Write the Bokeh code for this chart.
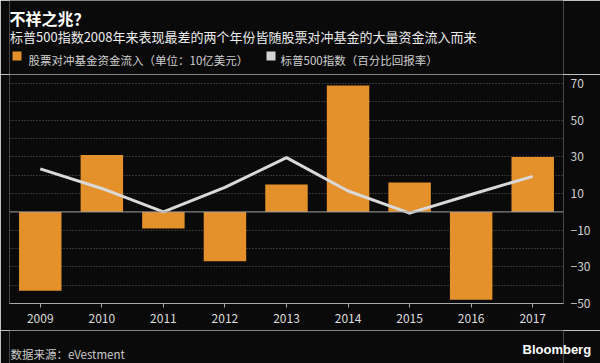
from bokeh.plotting import figure
from bokeh.layouts import column
from bokeh.models import (ColumnDataSource, FactorRange, Range1d, FixedTicker,
                          Span, Label, BoxAnnotation, LinearAxis)
from bokeh.embed import file_html
from bokeh.resources import INLINE

# ---- data ----
years = ["2009", "2010", "2011", "2012", "2013", "2014", "2015", "2016", "2017"]
flows = [-43, 31, -9, -27, 15, 69, 16, -48, 30]               # hedge fund equity inflows ($10bn)
sp500 = [23.5, 12.8, 0.0, 13.4, 29.6, 11.4, -0.7, 9.5, 19.4]  # S&P 500 % return
y_tick_values = [-50, -30, -10, 10, 30, 50, 70]
grid_values = [-40, -30, -20, -10, 10, 20, 30, 40, 50, 60, 70]

title_text = "不祥之兆？"
subtitle_text = "标普500指数2008年来表现最差的两个年份皆随股票对冲基金的大量资金流入而来"
legend_flow = "股票对冲基金资金流入（单位：10亿美元）"
legend_sp = "标普500指数（百分比回报率）"
source_text = "数据来源：eVestment"
brand_text = "Bloomberg"

BG = "#0a0a0a"
ORANGE = "#e4902b"
GRAY_LINE = "#d9d9d9"
GRAY_SWATCH = "#d4d4d4"
FONT = "Noto Sans CJK SC"
W = 600
FRAME_L, FRAME_R = 9, 563   # plot frame edges (column layout aligns all frames)
HEAD_BOTTOM = 74      # header: 0..74
MAIN_BOTTOM = 330     # main chart: 74..330
TOTAL = 363           # footer: 330..363


def blank(top, bottom):
    # text-only strip; data units are page pixels (y grows downwards)
    f = figure(width=W, height=bottom - top,
               x_range=Range1d(FRAME_L, FRAME_R), y_range=Range1d(bottom, top),
               x_axis_type=None, y_axis_type=None, output_backend="svg",
               toolbar_location=None, min_border=0,
               min_border_left=FRAME_L, min_border_right=W - FRAME_R,
               background_fill_color=BG, border_fill_color=BG,
               outline_line_color=None)
    f.grid.visible = False
    return f


def txt(fig, x, y, text, size, color, bold=False, align="left", font=FONT):
    fig.add_layout(Label(x=x, y=y, text=text, text_font=font,
                         text_font_size=size, text_color=color,
                         text_font_style="bold" if bold else "normal",
                         text_baseline="alphabetic", text_align=align))


# ---- header ----
head = blank(0, HEAD_BOTTOM)
txt(head, 9, 17, title_text, "16px", "#ffffff", bold=True)
txt(head, 9.5, 36, subtitle_text, "13px", "#ececec")
head.add_layout(BoxAnnotation(left=12, right=21, top=51, bottom=60,
                              fill_color=ORANGE, fill_alpha=1, line_color=None))
txt(head, 28, 59.5, legend_flow, "11.5px", "#cfcfcf")
head.add_layout(BoxAnnotation(left=266, right=275, top=51, bottom=60,
                              fill_color=GRAY_SWATCH, fill_alpha=1, line_color=None))
txt(head, 280, 59.5, legend_sp, "11.5px", "#cfcfcf")

# ---- main chart ----
src = ColumnDataSource(dict(year=years, flow=flows, sp=sp500))
p = figure(width=W, height=MAIN_BOTTOM - HEAD_BOTTOM,
           x_range=FactorRange(*years), y_range=Range1d(-50, 75),
           y_axis_location="right",
           output_backend="svg", toolbar_location=None,
           min_border_left=FRAME_L, min_border_right=W - FRAME_R,
           min_border_top=0, min_border_bottom=27,
           background_fill_color=BG, border_fill_color=BG,
           outline_line_color=None)

p.xgrid.grid_line_color = None
p.ygrid.ticker = FixedTicker(ticks=grid_values)
p.ygrid.grid_line_color = "#5e5e5e"
p.ygrid.grid_line_dash = "1 2"
p.ygrid.grid_line_width = 1

p.yaxis.ticker = FixedTicker(ticks=y_tick_values)
p.yaxis.axis_line_color = None
p.yaxis.major_tick_line_color = None
p.yaxis.major_tick_out = 0
p.yaxis.major_tick_in = 0
p.yaxis.minor_tick_line_color = None
p.yaxis.minor_tick_out = 0
p.yaxis.major_label_text_color = "#d0d0d0"
p.yaxis.major_label_text_font = FONT
p.yaxis.major_label_text_font_size = "12px"
p.yaxis.major_label_standoff = 7

p.xaxis.axis_line_color = "#a8a8a8"
p.xaxis.major_tick_line_color = "#a8a8a8"
p.xaxis.major_tick_out = 4
p.xaxis.major_tick_in = 0
p.xaxis.major_label_text_color = "#dddddd"
p.xaxis.major_label_text_font = FONT
p.xaxis.major_label_text_font_size = "12px"
p.xaxis.major_label_standoff = 6

p.vbar(x="year", top="flow", bottom=0, width=0.69, source=src,
       fill_color=ORANGE, line_color=None)
p.add_layout(Span(location=0, dimension="width", line_color="#a0a0a0", line_width=1))
p.line(x="year", y="sp", source=src, line_color=GRAY_LINE, line_width=3,
       line_join="round")

# ---- footer ----
foot = blank(MAIN_BOTTOM, TOTAL)
txt(foot, 10, 353, source_text, "11.5px", "#cccccc")
# brand mark sits in the right-hand panel (outside the aligned frame)
brand_y = 349
brand_axis = LinearAxis(ticker=FixedTicker(ticks=[brand_y]),
                        major_label_overrides={brand_y: brand_text},
                        axis_line_color=None, major_tick_line_color=None,
                        minor_tick_line_color=None, major_tick_out=0,
                        major_tick_in=0, minor_tick_out=0, minor_tick_in=0,
                        major_label_standoff=-41,
                        major_label_text_font="Liberation Sans",
                        major_label_text_font_size="13px",
                        major_label_text_font_style="bold",
                        major_label_text_color="#ffffff")
foot.add_layout(brand_axis, "right")

layout = column(head, p, foot, spacing=0)
open("out.html", "w").write(file_html(layout, INLINE))
